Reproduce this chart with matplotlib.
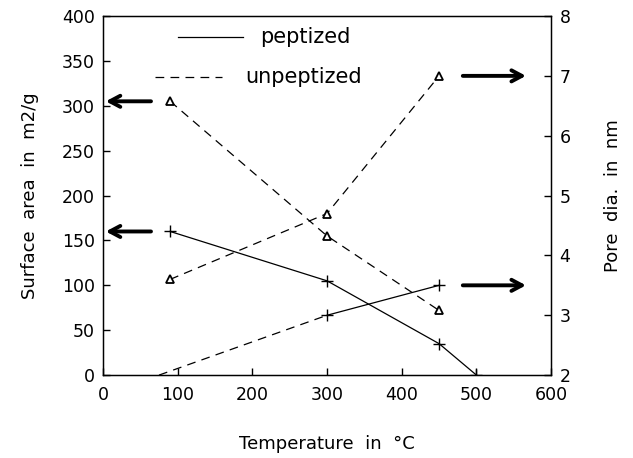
import matplotlib
matplotlib.use("Agg")
import matplotlib.pyplot as plt

# Data
temps_sa_pep = [90, 300, 450, 500]
sa_pep = [160, 105, 35, 0]
temps_sa_unpep = [90, 300, 450]
sa_unpep = [305, 155, 72]

temps_pd_pep = [300, 450]
pd_pep = [3.0, 3.5]
temps_pd_pep_ext = [75, 300]
pd_pep_ext = [2.0, 3.0]
temps_pd_unpep = [90, 300, 450]
pd_unpep = [3.6, 4.7, 7.0]

x_ticks = [0, 100, 200, 300, 400, 500, 600]
y_left_ticks = [0, 50, 100, 150, 200, 250, 300, 350, 400]
y_right_ticks = [2, 3, 4, 5, 6, 7, 8]

plt.rcParams['font.family'] = ['DejaVu Sans']
fig = plt.figure(figsize=(6.33, 4.58), dpi=100)
ax = fig.add_axes([0.1627, 0.181, 0.708, 0.784])
ax2 = ax.twinx()

dash = (0, (7, 5))
lw = 0.9
ax.plot(temps_sa_pep, sa_pep, color='black', lw=lw, marker='+', ms=8, mew=1)
ax.plot(temps_sa_unpep, sa_unpep, color='black', lw=lw, ls=dash, marker='^', ms=6,
        mfc='white', mec='black', mew=1.3)
ax2.plot(temps_pd_pep, pd_pep, color='black', lw=lw, marker='+', ms=8, mew=1)
ax2.plot(temps_pd_pep_ext, pd_pep_ext, color='black', lw=lw, ls=dash)
ax2.plot(temps_pd_unpep, pd_unpep, color='black', lw=lw, ls=dash, marker='^', ms=6,
         mfc='white', mec='black', mew=1.3)

ax.set_xlim(0, 600)
ax.set_ylim(0, 400)
ax2.set_ylim(2, 8)
ax.set_xticks(x_ticks)
ax.set_yticks(y_left_ticks)
ax2.set_yticks(y_right_ticks)

fs = 12.5
for a in (ax, ax2):
    a.tick_params(direction='in', length=5, width=1, labelsize=fs, pad=6)
ax.tick_params(axis='x', pad=8)
ax.tick_params(top=False)

ax.set_xlabel("Temperature  in  °C", fontsize=13, labelpad=22)
ax.set_ylabel("Surface  area  in  m2/g", fontsize=13, labelpad=16)
ax2.set_ylabel("Pore  dia.  in  nm", fontsize=13, labelpad=24, rotation=90)

# Arrows
arrow_kw = dict(arrowstyle='->,head_length=0.75,head_width=0.4', lw=2.8, color='black')
ax.annotate('', xy=(0, 305), xytext=(68, 305), arrowprops=arrow_kw, annotation_clip=False)
ax.annotate('', xy=(0, 160), xytext=(68, 160), arrowprops=arrow_kw, annotation_clip=False)
ax2.annotate('', xy=(570, 7.0), xytext=(478, 7.0), arrowprops=arrow_kw)
ax2.annotate('', xy=(570, 3.5), xytext=(478, 3.5), arrowprops=arrow_kw)

# Legend (manual)
ax.plot([101, 188], [377, 377], color='black', lw=lw)
ax.text(211, 377, "peptized", fontsize=15, va='center', ha='left')
ax.plot([70, 160], [332, 332], color='black', lw=lw, ls=dash)
ax.text(190, 332, "unpeptized", fontsize=15, va='center', ha='left')

for s in ax.spines.values():
    s.set_linewidth(1)

fig.savefig("out.png", dpi=100)
